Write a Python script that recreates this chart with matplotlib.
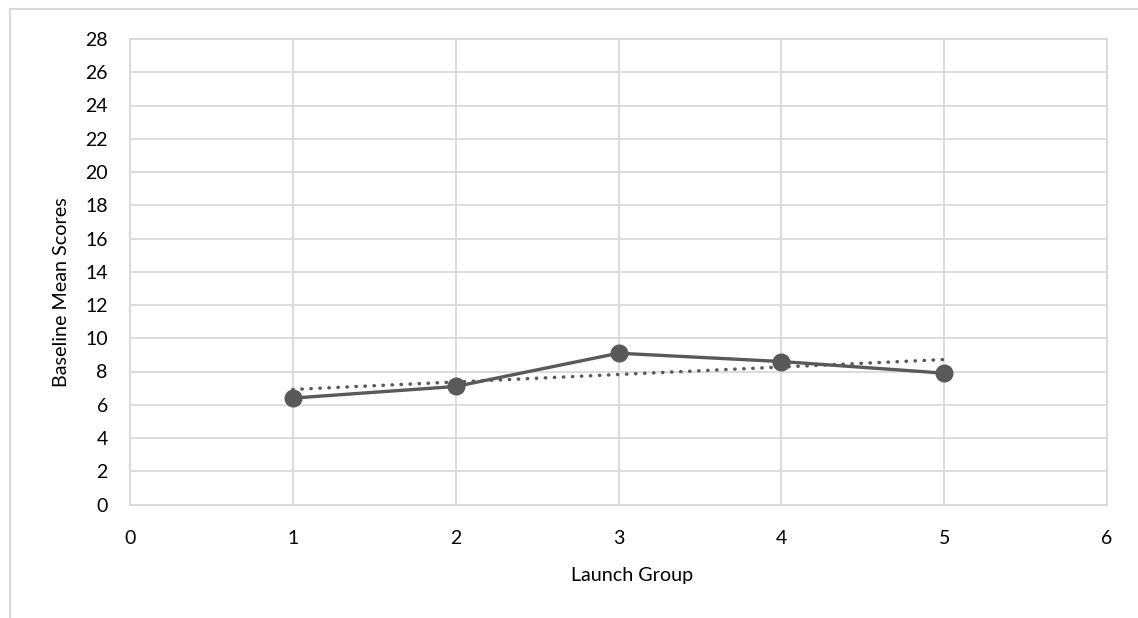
import numpy as np
import matplotlib
matplotlib.use("Agg")
import matplotlib.pyplot as plt
from matplotlib.patches import Rectangle

plt.rcParams['font.family'] = ['Lato', 'DejaVu Sans']

# data
launch_group = [1, 2, 3, 4, 5]
mean_scores = [6.4, 7.1, 9.1, 8.6, 7.9]
y_ticks = list(range(0, 29, 2))
x_ticks = list(range(0, 7))

grey = '#595959'
grid_col = '#d9d9d9'

fig = plt.figure(figsize=(11.38, 6.18), dpi=100)
ax = fig.add_axes([130/1138, 1 - 504.5/618, (1107-130)/1138, (504.5-39)/618])

# outer chart frame (only top/left visible in the crop)
fig.patches.append(Rectangle((10/1138, -0.1), 1.2, 1 - 9/618 + 0.1,
                             transform=fig.transFigure, fill=False,
                             edgecolor=grid_col, linewidth=1.5))

ax.plot(launch_group, mean_scores, color=grey, linewidth=2.4,
        marker='o', markersize=12, zorder=3)

# linear trendline
k, b = np.polyfit(launch_group, mean_scores, 1)
xs = np.array([launch_group[0], launch_group[-1]])
ax.plot(xs, k*xs + b, color=grey, linewidth=2.5, linestyle=(0, (0.1, 2.5)),
        dash_capstyle='round', zorder=2)

ax.set_xlim(0, 6)
ax.set_ylim(0, 28)
ax.set_xticks(x_ticks)
ax.set_yticks(y_ticks)
ax.grid(True, color=grid_col, linewidth=1.3)
ax.set_axisbelow(True)
for s in ax.spines.values():
    s.set_color(grid_col)
    s.set_linewidth(1.3)
ax.tick_params(length=0, labelsize=14, colors='black')
ax.tick_params(axis='x', pad=18)
ax.tick_params(axis='y', pad=16)

# labels are centred on the whole chart area, not the plot area
ax.set_xlabel('Launch Group', fontsize=14.2)
ax.set_ylabel('Baseline Mean Scores', fontsize=14.2)
ax.xaxis.set_label_coords((632-130)/977, -(567-504.5)/465.5, transform=ax.transAxes)
ax.yaxis.set_label_coords(-(130-70)/977, (504.5-292)/465.5, transform=ax.transAxes)

fig.savefig('out.png', dpi=100)
